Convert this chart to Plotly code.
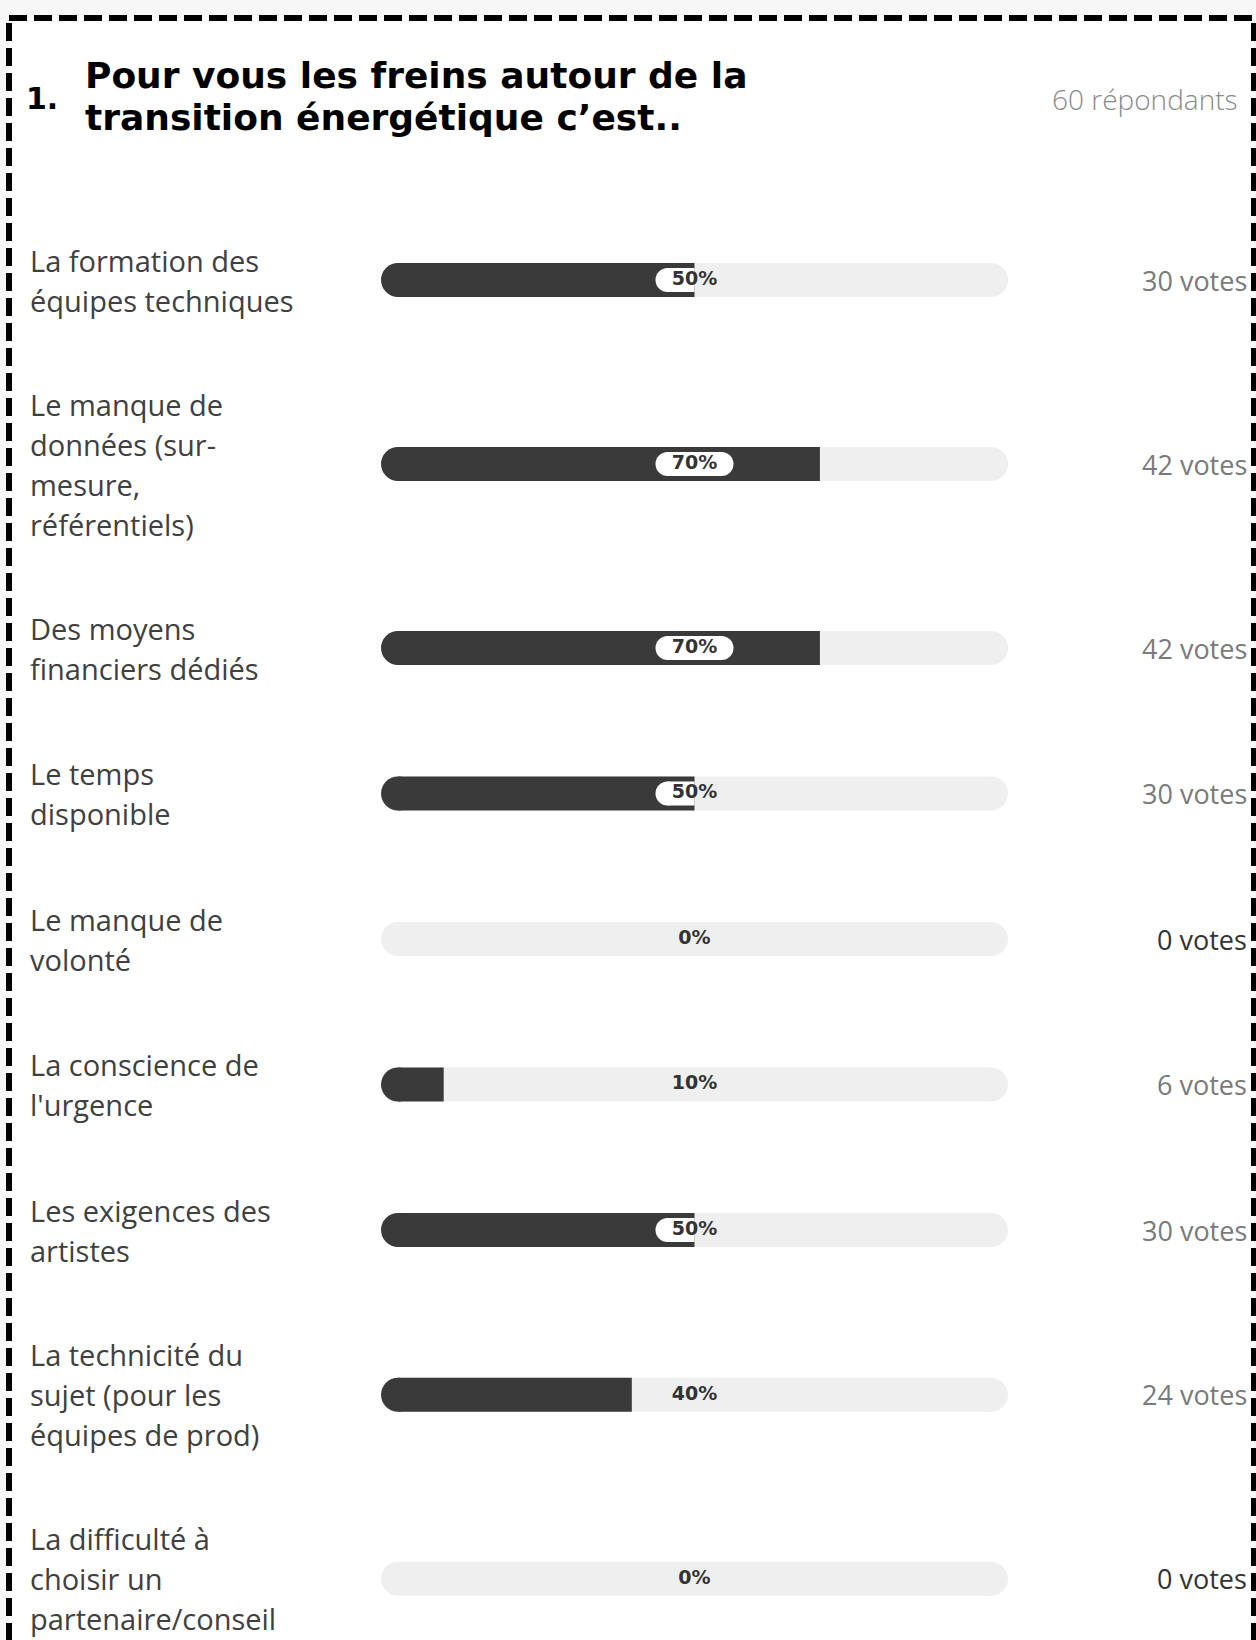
import plotly.graph_objects as go

# ---------------- data ----------------
question_number = "1."
title_lines = ["Pour vous les freins autour de la", "transition énergétique c’est.."]
respondents = 60
categories = [
    "La formation des\néquipes techniques",
    "Le manque de\ndonnées (sur-\nmesure,\nréférentiels)",
    "Des moyens\nfinanciers dédiés",
    "Le temps\ndisponible",
    "Le manque de\nvolonté",
    "La conscience de\nl'urgence",
    "Les exigences des\nartistes",
    "La technicité du\nsujet (pour les\néquipes de prod)",
    "La difficulté à\nchoisir un\npartenaire/conseil",
]
percents = [50, 70, 70, 50, 0, 10, 50, 40, 0]
votes = [30, 42, 42, 30, 0, 6, 30, 24, 0]

# ---------------- layout constants ----------------
W, H = 1256, 1640
LABEL_FONT = "'Open Sans', Lato, sans-serif"
TITLE_FONT = "'DejaVu Sans', sans-serif"
PCT_FONT = "'DejaVu Sans', sans-serif"
BAR_X0, BAR_X1 = 381, 1008          # pixel span of the 0..100 track
BORDER_IN = 1251                     # inner edge of right border
PX = (BAR_X1 - BAR_X0) / 100.0       # pixels per percentage unit
X_MAX = (BORDER_IN - BAR_X0) / PX
LINE_H = 40
ROW_A, ROW_B = 68.5, 38.5
FIRST_CENTER = 280
BAR_T = 34
PILL_T = 24
PILL_HALF = 39 / PX
R = BAR_T / 2 / PX
PR = PILL_T / 2 / PX
TRACK_C = "#efefef"
FILL_C = "#3a3a3a"
PILL_C = "#ffffff"

lines = [c.split("\n") for c in categories]
n = len(categories)
centers = [FIRST_CENTER]
for i in range(1, n):
    gap = ROW_A + ROW_B * (len(lines[i - 1]) + len(lines[i])) / 2
    centers.append(centers[-1] + gap)


def hbar(y, base, length, thick, color):
    return go.Bar(orientation="h", y=y, base=base, x=length, width=thick,
                  marker=dict(color=color, line=dict(width=0)),
                  hoverinfo="skip", showlegend=False)


def caps(x, y, size, color):
    return go.Scatter(x=x, y=y, mode="markers",
                      marker=dict(size=size, color=color, line=dict(width=0)),
                      hoverinfo="skip", showlegend=False)


fig = go.Figure()

idx = [i for i, p in enumerate(percents) if p > 0]
empty = [i for i, p in enumerate(percents) if p <= 0]

# grey track
fig.add_trace(hbar(centers, [R] * n, [100 - 2 * R] * n, BAR_T, TRACK_C))
# filled part (square right end)
fig.add_trace(hbar([centers[i] for i in idx], [R] * len(idx),
                   [percents[i] - R for i in idx], BAR_T, FILL_C))
# white pill body, only over the filled part
pl, pr = 50 - PILL_HALF + PR, 50 + PILL_HALF - PR
pidx = [i for i, p in enumerate(percents) if p > pl]
fig.add_trace(hbar([centers[i] for i in pidx], [pl] * len(pidx),
                   [min(percents[i], pr) - pl for i in pidx], PILL_T, PILL_C))

# rounded ends
fig.add_trace(caps([R] * len(empty) + [100 - R] * n,
                   [centers[i] for i in empty] + centers, BAR_T, TRACK_C))
fig.add_trace(caps([R] * len(idx), [centers[i] for i in idx], BAR_T, FILL_C))
lidx = [i for i, p in enumerate(percents) if p >= pl + PR]
fig.add_trace(caps([pl] * len(lidx), [centers[i] for i in lidx], PILL_T, PILL_C))
ridx = [i for i, p in enumerate(percents) if p >= 50 + PILL_HALF]
fig.add_trace(caps([pr] * len(ridx), [centers[i] for i in ridx], PILL_T, PILL_C))

# percentage labels
fig.add_trace(go.Scatter(
    x=[50] * n, y=centers, mode="text", text=[f"{p}%" for p in percents],
    textposition="middle center",
    textfont=dict(family=PCT_FONT, size=19, color="#333333", weight=700),
    cliponaxis=False, hoverinfo="skip", showlegend=False))

annotations = []
# category labels, one annotation per line
for i, ls in enumerate(lines):
    k = len(ls)
    for j, t in enumerate(ls):
        annotations.append(dict(
            x=28 / W, xref="paper", xanchor="left",
            y=centers[i] + (j - (k - 1) / 2) * LINE_H, yref="y", yanchor="middle",
            text=t, showarrow=False,
            font=dict(family=LABEL_FONT, size=29, color="#404040")))

# vote counts
for i, v in enumerate(votes):
    annotations.append(dict(
        x=1249 / W, xref="paper", xanchor="right", y=centers[i], yref="y", yanchor="middle",
        text=f"{v} votes", showarrow=False,
        font=dict(family=LABEL_FONT, size=27, color="#7a7a7a" if v > 0 else "#333333")))

# title
annotations.append(dict(
    x=24 / W, xref="paper", xanchor="left", y=1 - 99 / H, yref="paper", yanchor="middle",
    text=question_number, showarrow=False,
    font=dict(family=TITLE_FONT, size=30, color="#000000", weight=700)))
for j, t in enumerate(title_lines):
    annotations.append(dict(
        x=83 / W, xref="paper", xanchor="left", y=1 - (75 + 43 * j) / H, yref="paper",
        yanchor="middle", text=t, showarrow=False,
        font=dict(family=TITLE_FONT, size=36, color="#000000", weight=700)))
annotations.append(dict(
    x=1240 / W, xref="paper", xanchor="right", y=1 - 99 / H, yref="paper", yanchor="middle",
    text=f"{respondents} répondants", showarrow=False,
    font=dict(family=LABEL_FONT, size=28, color="#8a8a8a", weight=300)))

shapes = [dict(
    type="rect", xref="paper", yref="paper",
    x0=9 / W, x1=1254 / W, y0=1 - 18 / H, y1=-0.05,
    line=dict(color="#000000", width=6, dash="18px,7px"),
    fillcolor="#ffffff", layer="below")]

fig.update_layout(
    width=W, height=H, margin=dict(l=0, r=0, t=0, b=0),
    paper_bgcolor="#f7f7f7", plot_bgcolor="rgba(0,0,0,0)",
    barmode="overlay", showlegend=False,
    xaxis=dict(domain=[BAR_X0 / W, BORDER_IN / W], range=[0, X_MAX], visible=False, fixedrange=True),
    yaxis=dict(domain=[0, 1], range=[H, 0], visible=False, fixedrange=True),
    annotations=annotations, shapes=shapes,
)

fig.write_html("out.html")
